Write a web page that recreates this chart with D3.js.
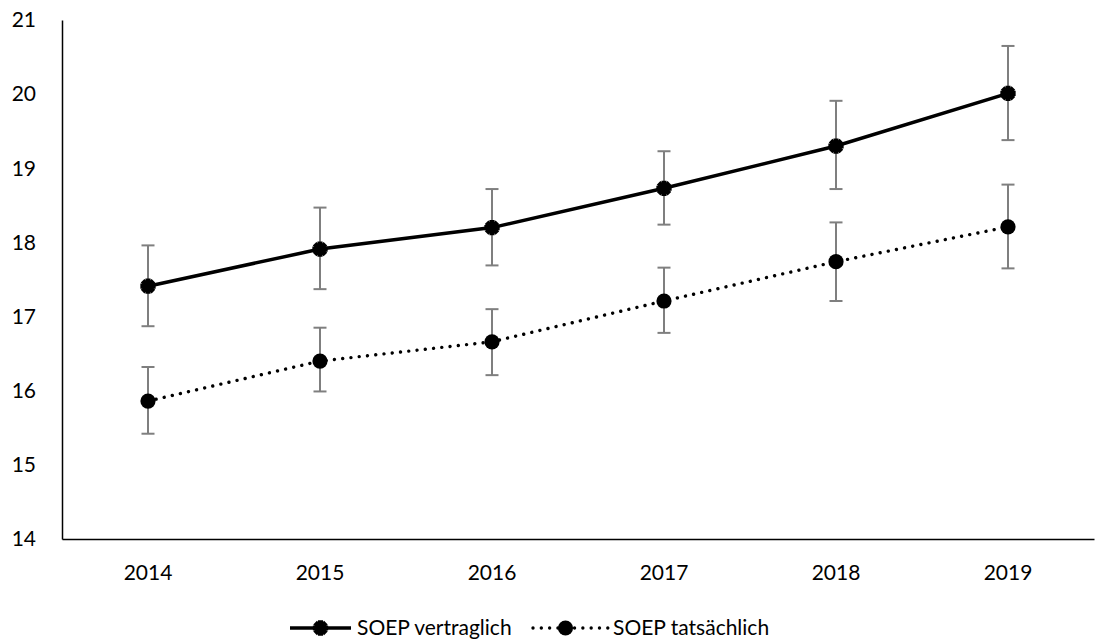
<!DOCTYPE html>
<html>
<head>
<meta charset="utf-8">
<script src="https://cdn.jsdelivr.net/npm/d3@7"></script>
<style>
  html, body { margin: 0; padding: 0; background: #fff; }
  svg text { font-family: Lato, "Open Sans", sans-serif; fill: #000; }
</style>
</head>
<body>
<svg id="chart" width="1100" height="644"></svg>
<script>
const years = ["2014", "2015", "2016", "2017", "2018", "2019"];
const yTicks = [14, 15, 16, 17, 18, 19, 20, 21];

const seriesNames = ["SOEP vertraglich", "SOEP tatsächlich"];
const vertraglich = [17.41, 17.91, 18.20, 18.73, 19.30, 20.01];
const vertraglichLow = [16.87, 17.37, 17.69, 18.24, 18.72, 19.38];
const vertraglichHigh = [17.96, 18.47, 18.72, 19.23, 19.91, 20.65];
const tatsaechlich = [15.86, 16.40, 16.66, 17.21, 17.74, 18.21];
const tatsaechlichLow = [15.42, 15.99, 16.21, 16.78, 17.21, 17.65];
const tatsaechlichHigh = [16.32, 16.85, 17.10, 17.66, 18.27, 18.78];

const svg = d3.select("#chart");
const mLeft = 62, mRight = 1094, mTop = 20, mBottom = 539;

const x = d3.scaleBand().domain(years).range([mLeft, mRight]);
const y = d3.scaleLinear().domain([14, 21]).range([mBottom, mTop]);
const cx = d => x(d) + x.bandwidth() / 2;

// Axes
const yAxis = d3.axisLeft(y).tickValues(yTicks).tickSize(0).tickPadding(26).tickFormat(d3.format("d"));
const gy = svg.append("g").attr("transform", `translate(${mLeft},0)`).call(yAxis);
gy.select(".domain").attr("stroke", "#000").attr("stroke-width", 1.5);
gy.selectAll("text").attr("font-size", 21).attr("font-family", "Lato");

const xAxis = d3.axisBottom(x).tickSize(0).tickPadding(26);
const gx = svg.append("g").attr("transform", `translate(0,${mBottom})`).call(xAxis);
gx.select(".domain").attr("stroke", "#000").attr("stroke-width", 1.5);
gx.selectAll("text").attr("font-size", 21).attr("font-family", "Lato");

const series = [
  { name: seriesNames[0], vals: vertraglich, lo: vertraglichLow, hi: vertraglichHigh, dotted: false },
  { name: seriesNames[1], vals: tatsaechlich, lo: tatsaechlichLow, hi: tatsaechlichHigh, dotted: true }
];

function starMarker(g, px, py) {
  g.append("circle").attr("cx", px).attr("cy", py).attr("r", 5.8).attr("fill", "#000");
  const cross = d3.symbol().type(d3.symbolCross).size(130)();
  g.append("path").attr("d", cross).attr("transform", `translate(${px},${py})`).attr("fill", "#000");
  g.append("path").attr("d", cross).attr("transform", `translate(${px},${py}) rotate(45)`).attr("fill", "#000");
}
function dotMarker(g, px, py) {
  g.append("circle").attr("cx", px).attr("cy", py).attr("r", 7.6).attr("fill", "#000");
}

const line = d3.line().x((d, i) => cx(years[i])).y(d => y(d));

series.forEach(s => {
  const g = svg.append("g");
  years.forEach((yr, i) => {
    const px = cx(yr);
    g.append("line").attr("x1", px).attr("x2", px).attr("y1", y(s.lo[i])).attr("y2", y(s.hi[i]))
      .attr("stroke", "#7f7f7f").attr("stroke-width", 2);
    [s.lo[i], s.hi[i]].forEach(v => {
      g.append("line").attr("x1", px - 6.5).attr("x2", px + 6.5).attr("y1", y(v)).attr("y2", y(v))
        .attr("stroke", "#7f7f7f").attr("stroke-width", 2);
    });
  });
  const p = g.append("path").attr("d", line(s.vals)).attr("fill", "none").attr("stroke", "#000");
  if (s.dotted) {
    p.attr("stroke-width", 3.4).attr("stroke-dasharray", "0.01 8.3").attr("stroke-linecap", "round");
  } else {
    p.attr("stroke-width", 3.5);
  }
  years.forEach((yr, i) => {
    if (s.dotted) dotMarker(g, cx(yr), y(s.vals[i]));
    else starMarker(g, cx(yr), y(s.vals[i]));
  });
});

// Legend
const ly = 628;
const lg = svg.append("g");
lg.append("line").attr("x1", 290).attr("x2", 351).attr("y1", ly).attr("y2", ly).attr("stroke", "#000").attr("stroke-width", 3.5);
starMarker(lg, 320.5, ly);
lg.append("text").attr("x", 357).attr("y", ly).attr("dy", "0.35em").attr("font-size", 21).text(seriesNames[0]);

lg.append("line").attr("x1", 533).attr("x2", 608).attr("y1", ly).attr("y2", ly).attr("stroke", "#000")
  .attr("stroke-width", 3.4).attr("stroke-dasharray", "0.01 8.3").attr("stroke-linecap", "round");
dotMarker(lg, 565.5, ly);
lg.append("text").attr("x", 613).attr("y", ly).attr("dy", "0.35em").attr("font-size", 21).text(seriesNames[1]);
</script>
</body>
</html>
